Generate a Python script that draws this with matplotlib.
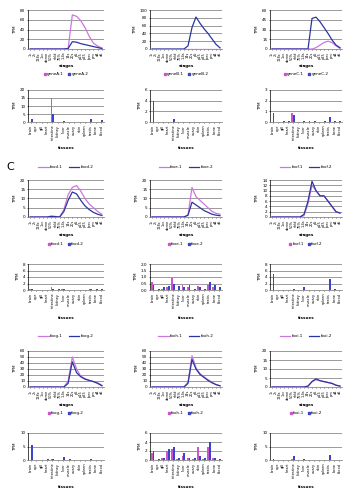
import matplotlib
matplotlib.use("Agg")
import matplotlib.pyplot as plt
import numpy as np

# categories
stages = ["1c", "2c", "128c", "1kc", "dome", "50%", "shld", "75%", "1-4s",
          "14s", "20s", "p5", "p15", "p25", "lpec", "pm", "d4", "d5"]
tissues = ["brain", "eye", "gill", "heart", "intestine", "kidney", "liver",
           "muscle", "ovary", "skin", "spleen", "testis", "bone", "blood"]

# legend names, one pair per panel
names_r1 = [("geneA.1", "geneA.2"), ("geneB.1", "geneB.2"), ("geneC.1", "geneC.2")]
names_r3 = [("foxd.1", "foxd.2"), ("foxe.1", "foxe.2"), ("foxf.1", "foxf.2")]
names_r5 = [("foxg.1", "foxg.2"), ("foxh.1", "foxh.2"), ("foxi.1", "foxi.2")]

# stage expression (TPM), copy 1 (pink) and copy 2 (blue)
st_r1c1_1 = [0, 0, 0, 0, 0, 0, 0, 0, 0, 1, 70, 67, 58, 44, 26, 12, 6, 2]
st_r1c1_2 = [0, 0, 0, 0, 0, 0, 0, 0, 0, 1, 15, 14, 11, 9, 7, 5, 3, 1]
st_r1c2_1 = [0] * 18
st_r1c2_2 = [0, 0, 0, 0, 0, 0, 0, 0, 0, 8, 55, 82, 66, 52, 40, 26, 12, 3]
st_r1c3_1 = [0, 0, 0, 0, 0, 0, 0, 0, 0, 0, 0, 2, 6, 10, 12, 10, 5, 1]
st_r1c3_2 = [0, 0, 0, 0, 0, 0, 0, 0, 0, 0, 47, 49, 42, 33, 24, 14, 6, 2]

st_r3c1_1 = [0, 0, 0, 0, 0, 0.5, 0.3, 0, 4, 12, 16, 17, 14, 10, 7, 5, 3, 1.5]
st_r3c1_2 = [0, 0, 0, 0, 0, 0.3, 0.2, 0, 3, 9, 13.5, 12.5, 9, 6, 4, 2.5, 1.5, 0.8]
st_r3c2_1 = [0, 0, 0, 0, 0, 0, 0, 0, 0, 1, 16, 11, 9, 7, 5, 3, 2, 1.5]
st_r3c2_2 = [0, 0, 0, 0, 0, 0, 0, 0, 0, 1, 8, 6.5, 5, 3.5, 2.5, 1.5, 1, 0.7]
st_r3c3_1 = [0, 0, 0, 0, 0, 0, 0, 0, 0.5, 5, 12, 10, 8, 8, 6, 4, 2, 1.5]
st_r3c3_2 = [0, 0, 0, 0, 0, 0, 0, 0, 1, 6, 13.5, 10, 8, 8, 6, 4, 2, 1.5]

st_r5c1_1 = [0, 0, 0, 0, 0, 0, 0, 0, 0, 10, 50, 30, 18, 14, 11, 9, 7, 3]
st_r5c1_2 = [0, 0, 0, 0, 0, 0, 0, 0, 0, 6, 42, 24, 17, 13, 11, 9, 6, 2]
st_r5c2_1 = [0, 0, 0, 0, 0, 0, 0, 0, 0, 8, 52, 32, 22, 17, 12, 8, 4, 2]
st_r5c2_2 = [0, 0, 0, 0, 0, 0, 0, 0, 0, 6, 46, 30, 21, 16, 11, 7, 4, 2]
st_r5c3_1 = [0, 0, 0, 0, 0, 0, 0, 0, 0, 0.5, 3, 4, 3.5, 3, 2.5, 2, 1, 0.5]
st_r5c3_2 = [0, 0, 0, 0, 0, 0, 0, 0, 0, 0.5, 3, 4.5, 3.5, 3, 2.5, 2, 1, 0.5]

# tissue expression (TPM)
ti_r2c1_1 = [0, 0, 0, 0, 15, 0, 0, 0, 0, 0, 0, 0, 0, 0]
ti_r2c1_2 = [2, 0, 0, 0.3, 5, 0, 0.6, 0.2, 0, 0, 0, 2, 0, 1]
ti_r2c2_1 = [0] * 14
ti_r2c2_2 = [4, 0.05, 0.05, 0.05, 0.6, 0, 0.05, 0.05, 0.05, 0, 0.05, 0.05, 0.05, 0.05]
ti_r2c3_1 = [0, 0, 0, 0, 0.8, 0, 0, 0, 0, 0, 0, 0, 0, 0]
ti_r2c3_2 = [0.8, 0, 0.05, 0.05, 0.7, 0, 0.05, 0.05, 0.05, 0, 0.05, 0.5, 0.05, 0.05]

ti_r4c1_1 = [0.2, 0, 0, 0, 0.8, 0, 0.3, 0, 0, 0, 0, 0.2, 0, 0]
ti_r4c1_2 = [0.4, 0, 0, 0, 0.3, 0.2, 0.3, 0.1, 0, 0.1, 0, 0.4, 0.3, 0.2]
ti_r4c2_1 = [0.6, 0, 0.1, 0.2, 0.9, 0, 0.4, 0.2, 0, 0.3, 0, 0.4, 0.2, 0]
ti_r4c2_2 = [0.4, 0.1, 0.2, 0.3, 0.5, 0.3, 0.2, 0.4, 0.1, 0.2, 0.1, 0.6, 0.4, 0.2]
ti_r4c3_1 = [0, 0, 0, 0, 0.1, 0, 0, 0, 0, 0, 0, 0, 0, 0]
ti_r4c3_2 = [5, 0.1, 0, 0, 0.3, 0, 0.8, 0, 0, 0, 0, 3.5, 0.2, 0]

ti_r6c1_1 = [0, 0, 0, 0, 0.3, 0, 0, 0, 0, 0, 0, 0, 0, 0]
ti_r6c1_2 = [5.5, 0, 0, 0.2, 0.2, 0.1, 1, 0.2, 0, 0, 0.1, 0.3, 0, 0]
ti_r6c2_1 = [1.5, 0, 0.5, 2, 2.5, 0.3, 1, 0.5, 0.3, 3, 0.3, 2.8, 0.5, 0]
ti_r6c2_2 = [2, 0.3, 0.5, 2.5, 3, 0.5, 1.5, 0.5, 0.5, 1, 0.5, 4, 0.5, 0.3]
ti_r6c3_1 = [0, 0, 0, 0, 0.3, 0, 0, 0, 0, 0, 0, 0, 0, 0]
ti_r6c3_2 = [0.3, 0, 0, 0, 1.5, 0, 0.5, 0, 0, 0, 0, 1.8, 0, 0]

PINK_L, BLUE_L = "#cc77dd", "#2a36a0"
PINK_B, BLUE_B = "#cc55cc", "#3a44cc"
W, H = 357, 500
FS = 3.0
FS_ST = 2.5

fig = plt.figure(figsize=(W / 100, H / 100), dpi=100)
fig.patch.set_facecolor("white")

col_x = [(28, 104), (150, 222), (270, 342)]


def px_axes(x0, x1, y0, y1):
    return fig.add_axes([x0 / W, 1 - y1 / H, (x1 - x0) / W, (y1 - y0) / H])


def style(ax, ymax, step):
    ax.set_ylim(0, ymax)
    ax.set_yticks(np.arange(0, ymax + step / 2, step))
    ax.yaxis.grid(True, color="#8a8a8a", lw=0.6)
    ax.set_axisbelow(True)
    for s in ["top", "right"]:
        ax.spines[s].set_visible(False)
    ax.spines["left"].set_linewidth(0.5)
    ax.spines["bottom"].set_color("#8a8a8a")
    ax.spines["bottom"].set_linewidth(0.6)
    ax.tick_params(labelsize=FS, length=1, width=0.4, pad=1)
    ax.set_ylabel("TPM", fontsize=FS, labelpad=2)


def line_panel(c, y0, y1, v1, v2, names, ymax, step, top_legend, lab_y, leg_y):
    x0, x1 = col_x[c]
    ax = px_axes(x0, x1, y0, y1)
    x = np.arange(len(stages))
    l1, = ax.plot(x, v1, color=PINK_L, lw=0.9)
    l2, = ax.plot(x, v2, color=BLUE_L, lw=0.9)
    ax.set_xlim(-0.5, len(stages) - 0.5)
    ax.set_xticks(x)
    style(ax, ymax, step)
    ax.set_xticklabels(stages, rotation=90, fontsize=FS_ST)
    cx = (x0 + x1) / 2 / W
    fig.text(cx, 1 - lab_y / H, "stages", fontsize=FS, ha="center", va="center",
             fontweight="bold")
    # square markers in the bottom legend, like a spreadsheet chart
    h1 = plt.Line2D([], [], ls="", marker="s", color=PINK_B, ms=2)
    h2 = plt.Line2D([], [], ls="", marker="s", color=BLUE_B, ms=2)
    fig.legend([h1, h2], names, loc="center", bbox_to_anchor=(cx, 1 - leg_y / H),
               ncol=2, fontsize=FS, frameon=False, handlelength=0.6,
               handletextpad=0.2, columnspacing=1.0)
    if top_legend is not None:
        fig.legend([l1, l2], names, loc="center",
                   bbox_to_anchor=(cx, 1 - top_legend / H), ncol=2, fontsize=FS,
                   frameon=False, handlelength=2.5, handletextpad=0.3,
                   columnspacing=1.5)
    return ax


def bar_panel(c, y0, y1, v1, v2, ymax, step, lab_y):
    x0, x1 = col_x[c]
    ax = px_axes(x0, x1, y0, y1)
    x = np.arange(len(tissues))
    w = 0.35
    ax.bar(x - w / 2, v1, w, color=PINK_B)
    ax.bar(x + w / 2, v2, w, color=BLUE_B)
    ax.set_xlim(-0.5, len(tissues) - 0.5)
    ax.set_xticks(x)
    style(ax, ymax, step)
    ax.set_xticklabels(tissues, rotation=90, fontsize=FS_ST)
    fig.text((x0 + x1) / 2 / W, 1 - lab_y / H, "tissues", fontsize=FS,
             ha="center", va="center", fontweight="bold")
    return ax


# row 1 / row 2
line_panel(0, 10, 49, st_r1c1_1, st_r1c1_2, names_r1[0], 80, 20, None, 66, 74)
line_panel(1, 10, 49, st_r1c2_1, st_r1c2_2, names_r1[1], 100, 20, None, 66, 74)
line_panel(2, 10, 49, st_r1c3_1, st_r1c3_2, names_r1[2], 60, 15, None, 66, 74)
bar_panel(0, 90, 122, ti_r2c1_1, ti_r2c1_2, 20, 5, 148)
bar_panel(1, 90, 122, ti_r2c2_1, ti_r2c2_2, 6, 2, 148)
bar_panel(2, 90, 122, ti_r2c3_1, ti_r2c3_2, 3, 1, 148)

# row 3 / row 4 (panel C)
line_panel(0, 180, 217, st_r3c1_1, st_r3c1_2, names_r3[0], 20, 5, 167, 235, 244)
line_panel(1, 180, 217, st_r3c2_1, st_r3c2_2, names_r3[1], 20, 5, 167, 235, 244)
line_panel(2, 180, 217, st_r3c3_1, st_r3c3_2, names_r3[2], 14, 2, 167, 235, 244)
bar_panel(0, 264, 290, ti_r4c1_1, ti_r4c1_2, 8, 2, 318)
bar_panel(1, 264, 290, ti_r4c2_1, ti_r4c2_2, 2, 0.5, 318)
bar_panel(2, 264, 290, ti_r4c3_1, ti_r4c3_2, 8, 2, 318)

# row 5 / row 6
line_panel(0, 351, 387, st_r5c1_1, st_r5c1_2, names_r5[0], 60, 10, 336, 405, 413)
line_panel(1, 351, 387, st_r5c2_1, st_r5c2_2, names_r5[1], 60, 10, 336, 405, 413)
line_panel(2, 351, 387, st_r5c3_1, st_r5c3_2, names_r5[2], 20, 5, 336, 405, 413)
bar_panel(0, 433, 460, ti_r6c1_1, ti_r6c1_2, 10, 5, 487)
bar_panel(1, 433, 460, ti_r6c2_1, ti_r6c2_2, 6, 2, 487)
bar_panel(2, 433, 460, ti_r6c3_1, ti_r6c3_2, 10, 5, 487)

fig.text(6 / W, 1 - 167 / H, "C", fontsize=8, ha="left", va="center")

fig.savefig("out.png", dpi=100, facecolor="white")
